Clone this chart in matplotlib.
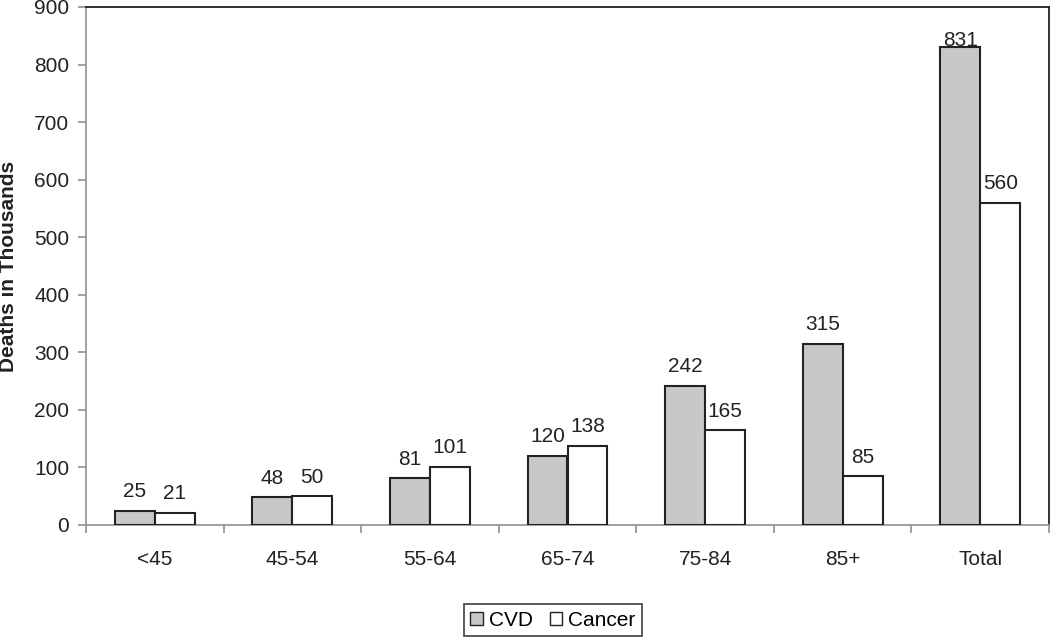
import matplotlib
matplotlib.use("Agg")
import matplotlib.pyplot as plt
import matplotlib.patches as mpatches
import numpy as np

plt.rcParams['font.family'] = ['Liberation Sans', 'DejaVu Sans']

groups = ["<45", "45-54", "55-64", "65-74", "75-84", "85+", "Total"]
cvd = [25, 48, 81, 120, 242, 315, 831]
cancer = [21, 50, 101, 138, 165, 85, 560]

gray = '#c8c8c8'
edge = '#222222'
axis_gray = '#999999'
fs = 15

fig = plt.figure(figsize=(10.5, 6.38), dpi=100)
ax = fig.add_axes([86/1050, 1 - 525/638, 963/1050, 518/638])

x = np.arange(len(groups))
w = 0.29
ax.bar(x - w/2, cvd, w, color=gray, edgecolor=edge, linewidth=1.5, zorder=3)
ax.bar(x + w/2, cancer, w, color='white', edgecolor=edge, linewidth=1.5, zorder=3)

ax.set_xlim(-0.5, len(groups) - 0.5)
ax.set_ylim(0, 900)
ax.set_yticks(np.arange(0, 901, 100))

# value labels, kept inside the plot area
for xs, vals in ((x - w/2, cvd), (x + w/2, cancer)):
    for xi, v in zip(xs, vals):
        y = min(v + 33, 841)
        ax.text(xi, y, str(v), ha='center', va='center', fontsize=fs, color='#222222', zorder=4)

ax.spines['top'].set_color('#222222')
ax.spines['right'].set_color('#222222')
ax.spines['left'].set_color(axis_gray)
ax.spines['bottom'].set_color(axis_gray)
for s in ax.spines.values():
    s.set_linewidth(1.3)

ax.tick_params(axis='y', direction='out', length=6, color=axis_gray, width=1.3,
               labelsize=fs, labelcolor='#222222', pad=6)
ax.set_xticks(x)
ax.set_xticklabels(groups)
ax.tick_params(axis='x', which='major', length=0, labelsize=fs, labelcolor='#222222', pad=18)
ax.set_xticks(np.arange(-0.5, len(groups)), minor=True)
ax.tick_params(axis='x', which='minor', direction='out', length=6, color=axis_gray, width=1.3)

ax.set_ylabel("Deaths in Thousands", fontsize=fs, fontweight='bold', color='#222222', labelpad=12)

h1 = mpatches.Patch(facecolor=gray, edgecolor=edge, linewidth=1, label='CVD')
h2 = mpatches.Patch(facecolor='white', edgecolor=edge, linewidth=1, label='Cancer')
leg = fig.legend(handles=[h1, h2], loc='center', bbox_to_anchor=(553/1050, 1 - 620/638),
                 ncol=2, fontsize=fs, frameon=True, fancybox=False,
                 handlelength=0.6, handleheight=0.6, handletextpad=0.3, columnspacing=0.8,
                 borderpad=0.3)
leg.get_frame().set_edgecolor('#222222')
leg.get_frame().set_linewidth(1.3)

fig.savefig("out.png", dpi=100)
